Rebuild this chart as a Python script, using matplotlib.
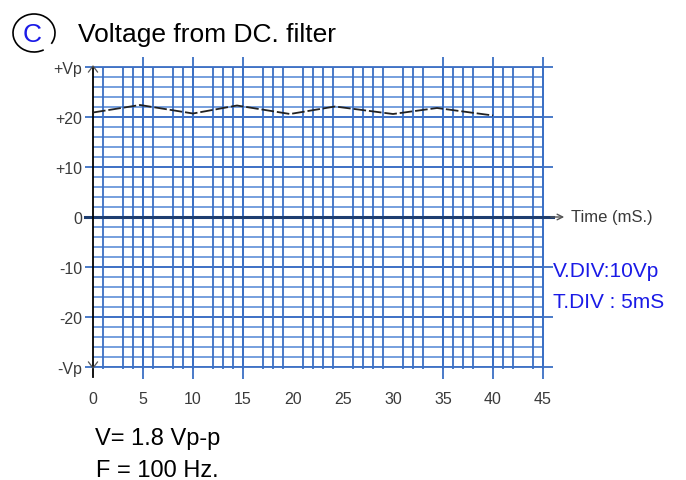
import matplotlib
matplotlib.use("Agg")
import matplotlib.pyplot as plt
from matplotlib.patches import Arc

plt.rcParams['font.family'] = ['Liberation Sans', 'DejaVu Sans']

# waveform (time in mS, volts)
t_ms = [0, 4.7, 10, 14.4, 19.7, 24.2, 30, 34.4, 40]
v_out = [20.9, 22.4, 20.7, 22.3, 20.6, 22.1, 20.6, 21.8, 20.3]

# hand drawn grid: vertical lines (some are missing on the paper)
grid_t = [1, 3, 4, 5, 6, 8, 9, 10, 12, 13, 14, 15, 17, 18, 19, 21, 22, 23, 24,
          26, 27, 28, 29, 31, 32, 33, 35, 36, 37, 38, 40, 41, 42, 44, 45]
tall_t = [5, 10, 15, 35, 40, 45]
grid_v = list(range(-30, 31, 2))
major_v = [30, 20, 10, -10, -20, -30]

x_ticks = [0, 5, 10, 15, 20, 25, 30, 35, 40, 45]
y_ticks = [30, 20, 10, 0, -10, -20, -30]
y_labels = ['+Vp', '+20', '+10', '0', '-10', '-20', '-Vp']

blue = '#3b6fc4'
blue_light = '#5f8fd8'
navy = '#1d3d70'

fig = plt.figure(figsize=(6.86, 4.81), dpi=100)
ax = fig.add_axes([93 / 686, 1 - 368 / 481, 450 / 686, 300 / 481])
ax.set_xlim(0, 45)
ax.set_ylim(-30, 30)
for s in ax.spines.values():
    s.set_visible(False)

# grid
ax.hlines(grid_v, 0, 45, color=blue_light, lw=1.2, zorder=1)
ax.hlines(major_v, 0, 46, color=blue, lw=1.3, zorder=1, clip_on=False)
ax.vlines(grid_t, -30.4, 30, color=blue, lw=1.3, zorder=2, clip_on=False)
ax.vlines(tall_t, -32.4, 32, color=blue, lw=1.3, zorder=2, clip_on=False)

# axes lines
ax.plot([-0.8, 46], [0, 0], color=navy, lw=2.2, zorder=3, clip_on=False)
ax.annotate('', xy=(47.4, 0), xytext=(45.5, 0),
            arrowprops=dict(arrowstyle='->', color='#555555', lw=1.0),
            annotation_clip=False)
ax.plot([0, 0], [30, -32], color='black', lw=1.3, zorder=4, clip_on=False)
ax.plot([-0.45, 0, 0.45], [29.0, 30.2, 29.0], color='#555555', lw=0.9, zorder=4, clip_on=False)
ax.plot([-0.45, 0, 0.45], [-29.0, -30.2, -29.0], color='#555555', lw=0.9, zorder=4, clip_on=False)

# ripple voltage
ax.plot(t_ms, v_out, color='#222222', lw=1.3, dashes=(7, 1.6), zorder=5)

ax.set_xticks(x_ticks)
ax.set_xticklabels([str(x) for x in x_ticks])
ax.set_yticks(y_ticks)
ax.set_yticklabels(y_labels)
ax.tick_params(axis='x', length=0, pad=17, labelsize=11.5, labelcolor='#3a3a3a')
ax.tick_params(axis='y', length=6, width=1.3, color=blue, pad=2, labelsize=11.5,
               labelcolor='#3a3a3a')

# overlay in pixel units for the texts
ov = fig.add_axes([0, 0, 1, 1], facecolor='none')
ov.set_xlim(0, 686)
ov.set_ylim(481, 0)
ov.axis('off')

ov.add_patch(Arc((34, 34), 42, 38, theta1=60, theta2=392, color='black', lw=1.2))
ov.text(32, 42, 'C', color='#1a1ae6', fontsize=19, ha='center', va='baseline')
ov.text(78, 42, 'Voltage from DC. filter', fontsize=19, va='baseline')

ov.text(571, 218, 'Time (mS.)', fontsize=12, color='#3a3a3a', va='center')
ov.text(553, 272, 'V.DIV:10Vp', fontsize=15, color='#1a1ae6', va='center')
ov.text(553, 303, 'T.DIV : 5mS', fontsize=15, color='#1a1ae6', va='center')
ov.text(95, 445, 'V= 1.8 Vp-p', fontsize=17, va='baseline')
ov.text(96, 477, 'F = 100 Hz.', fontsize=17, va='baseline')

fig.savefig('out.png', dpi=100)
